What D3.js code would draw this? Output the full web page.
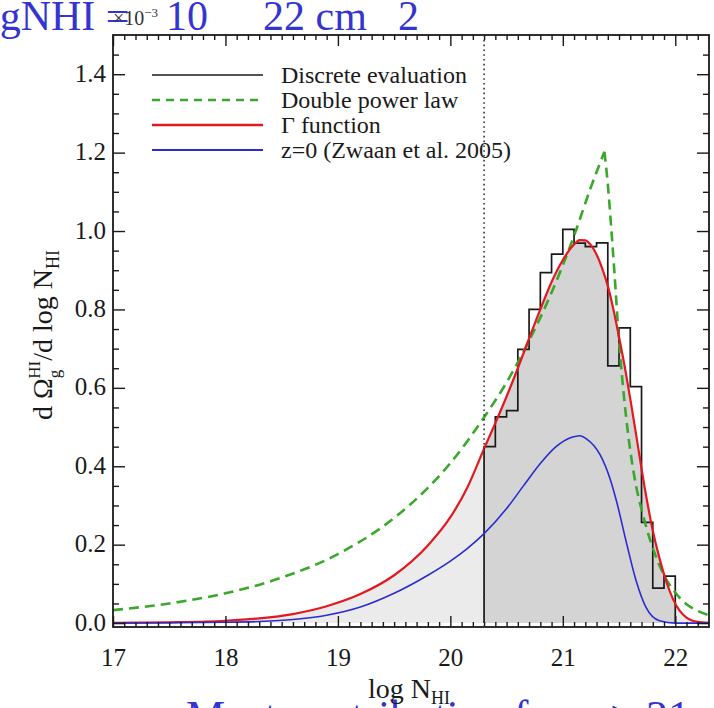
<!DOCTYPE html>
<html>
<head>
<meta charset="utf-8">
<script src="https://cdn.jsdelivr.net/npm/d3@7"></script>
<style>
body { margin: 0; background: #fff; }
svg { display: block; font-family: "Liberation Serif", "DejaVu Serif", serif; }
</style>
</head>
<body>
<script>
// histogram (discrete evaluation), bin edges and heights (x 10^-3)
const histEdges = [20.3,20.4,20.5,20.6,20.7,20.8,20.9,21.0,21.1,21.2,21.3,21.4,21.5,21.6,21.7,21.8,21.9,22.0];
const histValues = [0.450,0.526,0.542,0.698,0.800,0.894,0.941,1.004,0.969,0.960,0.970,0.656,0.753,0.603,0.257,0.089,0.120];

// Gamma function fit (red)
const gammaX = [17.0,17.5,18.0,18.3,18.6,18.9,19.2,19.5,19.8,20.0,20.15,20.3,20.4,20.5,20.6,20.7,20.8,20.9,21.0,21.1,21.15,21.2,21.25,21.3,21.35,21.4,21.45,21.5,21.55,21.6,21.65,21.7,21.75,21.8,21.86,21.92,21.98,22.04,22.1,22.2,22.3];
const gammaY = [0.0005,0.002,0.006,0.012,0.023,0.043,0.074,0.122,0.198,0.270,0.345,0.445,0.510,0.578,0.650,0.726,0.800,0.870,0.926,0.966,0.977,0.976,0.964,0.940,0.905,0.860,0.800,0.730,0.655,0.572,0.484,0.394,0.310,0.236,0.165,0.106,0.061,0.031,0.014,0.003,0.0005];

// double power law (green dashed)
const dplX = [17.0,17.5,18.0,18.5,19.0,19.5,19.8,20.0,20.3,20.5,20.7,20.9,21.1,21.25,21.37,21.40,21.43,21.46,21.50,21.55,21.60,21.65,21.70,21.75,21.80,21.90,22.00,22.10,22.20,22.30];
const dplY = [0.033,0.050,0.076,0.116,0.176,0.268,0.345,0.408,0.525,0.614,0.720,0.843,0.988,1.112,1.202,1.120,1.010,0.890,0.720,0.560,0.440,0.352,0.290,0.237,0.192,0.122,0.078,0.048,0.031,0.020];

// z=0 (Zwaan et al. 2005), blue
const zwaanX = [17.0,17.5,18.0,18.3,18.6,18.9,19.2,19.5,19.8,20.0,20.15,20.3,20.5,20.65,20.8,20.94,21.08,21.15,21.21,21.33,21.42,21.48,21.57,21.65,21.74,21.86,22.0,22.3];
const zwaanY = [0.000,0.001,0.002,0.004,0.009,0.020,0.041,0.076,0.122,0.158,0.190,0.228,0.292,0.350,0.407,0.450,0.474,0.478,0.470,0.430,0.368,0.308,0.200,0.110,0.040,0.006,0.000,0.000];

const xMajor = [17,18,19,20,21,22];
const yMajor = [0,0.2,0.4,0.6,0.8,1.0,1.2,1.4];
const legendLabels = ["Discrete evaluation","Double power law","\u0393 function","z=0 (Zwaan et al. 2005)"];

const cutoff = 20.3;
const red = "#e3191f", green = "#39a82b", blue = "#2b2bd0", ink = "#1a1a1a";

const W = 714, H = 708;
const pLeft = 113, pRight = 709, pTop = 35, pBottom = 627;

const svg = d3.select("body").append("svg").attr("width",W).attr("height",H);

const x = d3.scaleLinear().domain([17,22.3]).range([pLeft,pRight]);
const y = d3.scaleLinear().domain([-0.01,1.5]).range([pBottom,pTop]);

// clip to frame
svg.append("clipPath").attr("id","plotclip")
   .append("rect").attr("x",pLeft).attr("y",pTop).attr("width",pRight-pLeft).attr("height",pBottom-pTop);
svg.append("clipPath").attr("id","darkclip")
   .append("rect").attr("x",x(cutoff)).attr("y",pTop).attr("width",x(22.0)-x(cutoff)).attr("height",pBottom-pTop);

const plot = svg.append("g").attr("clip-path","url(#plotclip)");

var gammaPts = gammaX.map(function(d,i){ return [d,gammaY[i]]; });
var dplPts = dplX.map(function(d,i){ return [d,dplY[i]]; });
var zwaanPts = zwaanX.map(function(d,i){ return [d,zwaanY[i]]; });

const area = d3.area().x(d => x(d[0])).y0(y(0)).y1(d => y(d[1])).curve(d3.curveMonotoneX);
const line = d3.line().x(d => x(d[0])).y(d => y(d[1])).curve(d3.curveMonotoneX);

// shaded area under the gamma function
plot.append("path").datum(gammaPts).attr("d",area).attr("fill","#ebebeb");
plot.append("g").attr("clip-path","url(#darkclip)")
    .append("path").datum(gammaPts).attr("d",area).attr("fill","#d4d4d4");

// histogram outline
var steps = [[histEdges[0],0]];
for(var i = 0; i < histValues.length; i++){
	steps.push([histEdges[i],histValues[i]]);
	steps.push([histEdges[i+1],histValues[i]]);
}
steps.push([histEdges[histEdges.length-1],0]);
plot.append("path").datum(steps)
    .attr("d",d3.line().x(d => x(d[0])).y(d => y(d[1])))
    .attr("fill","none").attr("stroke",ink).attr("stroke-width",1.7);

// double power law has a sharp break: draw the two legs separately
var peak = d3.maxIndex(dplY);
[dplPts.slice(0,peak+1), dplPts.slice(peak)].forEach(function(leg){
	plot.append("path").datum(leg).attr("d",line)
	    .attr("fill","none").attr("stroke",green).attr("stroke-width",2.6).attr("stroke-dasharray","10,6");
});
plot.append("path").datum(gammaPts).attr("d",line)
    .attr("fill","none").attr("stroke",red).attr("stroke-width",2.2);
plot.append("path").datum(zwaanPts).attr("d",line)
    .attr("fill","none").attr("stroke",blue).attr("stroke-width",1.6);

// axes: ticks on all four sides, pointing inward
function minorVals(lo,hi,step,majors){
	var out = [];
	for(var v = lo; v <= hi + 1e-9; v += step){
		var r = Math.round(v*100)/100;
		if(majors.every(m => Math.abs(m-r) > 1e-6)) out.push(r);
	}
	return out;
}
const xMinor = minorVals(17.1,22.2,0.1,xMajor);
const yMinor = minorVals(0.05,1.45,0.05,yMajor);

function styleAxis(g){
	g.select(".domain").remove();
	g.selectAll("line").attr("stroke",ink).attr("stroke-width",1.4);
	g.selectAll("text").attr("fill",ink).style("font-size","25px")
	 .style("font-family","'Liberation Serif', serif");
}

svg.append("g").attr("transform","translate(0,"+pBottom+")")
   .call(d3.axisBottom(x).tickValues(xMajor).tickSize(-11).tickPadding(21).tickFormat(d3.format("d")))
   .call(styleAxis);
svg.append("g").attr("transform","translate(0,"+pBottom+")")
   .call(d3.axisBottom(x).tickValues(xMinor).tickSize(-5).tickFormat(""))
   .call(styleAxis);
svg.append("g").attr("transform","translate(0,"+pTop+")")
   .call(d3.axisTop(x).tickValues(xMajor).tickSize(-11).tickFormat(""))
   .call(styleAxis);
svg.append("g").attr("transform","translate(0,"+pTop+")")
   .call(d3.axisTop(x).tickValues(xMinor).tickSize(-5).tickFormat(""))
   .call(styleAxis);

svg.append("g").attr("transform","translate("+pLeft+",0)")
   .call(d3.axisLeft(y).tickValues(yMajor).tickSize(-12).tickPadding(7).tickFormat(d3.format(".1f")))
   .call(styleAxis)
   .selectAll("text").attr("dy","0.28em");
svg.append("g").attr("transform","translate("+pLeft+",0)")
   .call(d3.axisLeft(y).tickValues(yMinor).tickSize(-6).tickFormat(""))
   .call(styleAxis);
svg.append("g").attr("transform","translate("+pRight+",0)")
   .call(d3.axisRight(y).tickValues(yMajor).tickSize(-12).tickFormat(""))
   .call(styleAxis);
svg.append("g").attr("transform","translate("+pRight+",0)")
   .call(d3.axisRight(y).tickValues(yMinor).tickSize(-6).tickFormat(""))
   .call(styleAxis);

// frame
svg.append("rect").attr("x",pLeft).attr("y",pTop).attr("width",pRight-pLeft).attr("height",pBottom-pTop)
   .attr("fill","none").attr("stroke",ink).attr("stroke-width",1.8);

// legend
const legendColors = [ink,green,red,blue];
const legendWidths = [1.6,2.4,2.4,1.8];
const legendDash = [null,"8,6",null,null];
const leg = svg.append("g");
legendLabels.forEach(function(lab,i){
	var cy = 75 + i*25;
	leg.append("line").attr("x1",152).attr("x2",263).attr("y1",cy).attr("y2",cy)
	   .attr("stroke",legendColors[i]).attr("stroke-width",legendWidths[i])
	   .attr("stroke-dasharray",legendDash[i]);
	leg.append("text").attr("x",281).attr("y",cy+8).text(lab)
	   .style("font-size","24px").attr("fill",ink);
});

// vertical dotted line at log N = 20.3
svg.append("line").attr("x1",x(cutoff)).attr("x2",x(cutoff)).attr("y1",pTop).attr("y2",pBottom)
   .attr("stroke","#333").attr("stroke-width",1.6).attr("stroke-dasharray","1.6,3.2");

// slide text cut by the picture edges
const slideTop = svg.append("text").attr("y",30).attr("fill","#3434d0").style("font-size","42px");
slideTop.append("tspan").attr("x",-33).text("logNHI =");
slideTop.append("tspan").attr("x",166).text("10");
slideTop.append("tspan").attr("x",263).text("22 cm");
slideTop.append("tspan").attr("x",398).text("2");

svg.append("text").attr("x",690).attr("y",731).attr("text-anchor","end").attr("fill","#3434d0")
   .style("font-size","44px").text("Most contribution from > 21");

// exponent label
const ex = svg.append("text").attr("x",113).attr("y",25).attr("fill","#333").style("font-size","20px");
ex.append("tspan").text("\u00d710");
ex.append("tspan").attr("dy",-8).style("font-size","13px").text("\u22123");

// axis titles
const xt = svg.append("text").attr("x",409).attr("y",698).attr("text-anchor","middle")
   .attr("fill",ink).style("font-size","28px");
xt.append("tspan").text("log N");
xt.append("tspan").attr("dy",6).style("font-size","18px").text("HI");

const yt = svg.append("text").attr("transform","translate(52,335) rotate(-90)")
   .attr("text-anchor","middle").attr("fill",ink).style("font-size","28px");
yt.append("tspan").text("d \u03a9");
yt.append("tspan").attr("dy",8).style("font-size","17px").text("g");
yt.append("tspan").attr("dx",-9).attr("dy",-20).style("font-size","17px").text("HI");
yt.append("tspan").attr("dy",12).text("/d log N");
yt.append("tspan").attr("dy",7).style("font-size","18px").text("HI");
</script>
</body>
</html>
